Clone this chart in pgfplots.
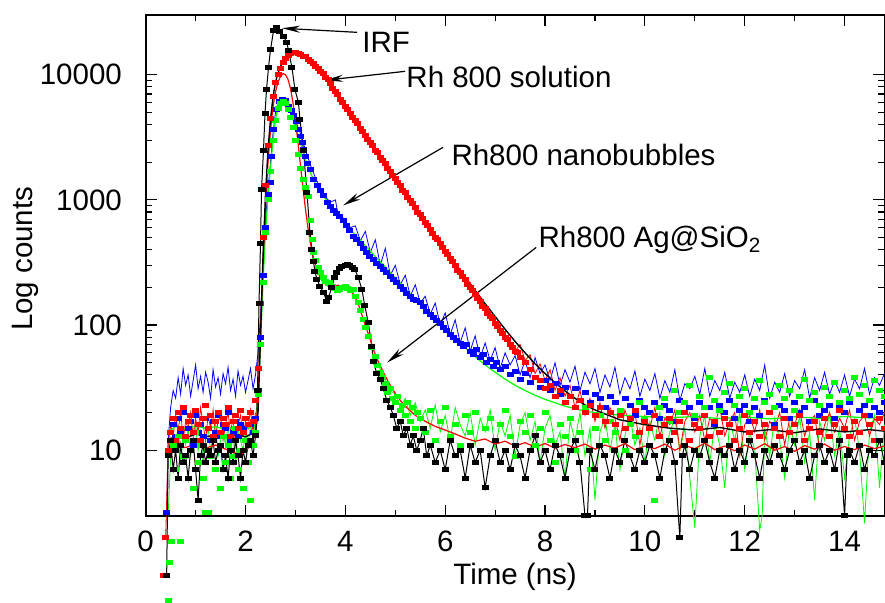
\documentclass[border=0pt]{standalone}
\usepackage{pgfplots}
\pgfplotsset{compat=1.18}
\usepackage{fontspec}
\setmainfont{Liberation Sans}
\usetikzlibrary{arrows.meta}
\definecolor{pblue}{RGB}{0,0,255}
\definecolor{pred}{RGB}{255,0,0}
\definecolor{pgreen}{RGB}{0,255,0}
\newcommand{\fs}{\fontsize{14.75}{17.7}\selectfont}

\begin{document}
\begin{tikzpicture}
\useasboundingbox (-72.85pt,-43.65pt) rectangle (369.65pt,257.85pt);
\begin{axis}[
  scale only axis,
  width=369.4pt,height=250.35pt,
  xmin=0,xmax=14.8,
  ymode=log,ymin=3,ymax=30000,
  clip=false,
  axis line style={line width=1pt},
  every tick/.style={black,line width=0.6pt},
  major tick length=5.5pt,minor tick length=3pt,
  tick align=inside,
  xtick={0,2,4,6,8,10,12,14},
  xticklabels={0,2,4,6,8,10,12,14},
  minor x tick num=1,
  ytick={10,100,1000,10000},
  yticklabels={10,100,1000,10000},
  tick label style={font=\fs},
  xticklabel style={yshift=-4.1pt},
  yticklabel style={xshift=-8.4pt},
  xlabel={Time (ns)},
  ylabel={Log counts},
  label style={font=\fs},
  xlabel style={at={(rel axis cs:0.5,0)},anchor=base,yshift=-34.65pt},
  ylabel style={at={(rel axis cs:0,0.513)},anchor=base,yshift=56.35pt},
  mark size=1pt,
]
% thin noisy traces
\addplot[pblue,line width=0.4pt] coordinates {
(0.42,3)(0.45,12)(0.5,22)(0.55,30)(0.6,26)(0.65,38)(0.7,28)(0.75,45)(0.8,33)(0.85,40)(0.9,27)(0.95,36)
(1.0,48)(1.05,31)(1.1,39)(1.15,29)(1.2,42)(1.25,35)(1.3,26)(1.35,44)(1.4,32)(1.45,38)(1.5,28)(1.55,41)
(1.6,34)(1.65,46)(1.7,30)(1.75,37)(1.8,27)(1.85,43)(1.9,33)(1.95,39)(2.0,29)(2.05,36)(2.1,45)(2.15,31)
(2.2,40)(2.25,60)(2.3,120)(2.35,300)(2.4,700)(2.45,1200)(2.5,2000)(2.55,3400)(2.6,5000)(2.65,6000)
(2.7,6400)(2.75,6400)(2.8,6100)(2.85,5700)(2.9,5300)(2.95,4800)(3.0,4300)(3.1,3400)(3.2,2500)(3.3,1900)
(3.4,1500)(3.5,1250)(3.6,1050)(3.7,960)(3.8,1000)(3.85,780)(3.9,760)(4.0,680)(4.1,600)(4.2,620)
(4.3,470)(4.4,560)(4.5,380)(4.6,480)(4.7,300)(4.8,410)(4.9,250)(5.0,300)(5.1,210)(5.2,250)(5.3,170)
(5.4,210)(5.5,150)(5.6,170)(5.7,122)(5.8,150)(5.9,100)(6.0,125)(6.1,84)(6.2,110)(6.3,72)(6.4,95)
(6.5,62)(6.6,82)(6.7,55)(6.8,72)(6.9,52)(7.0,66)(7.1,45)(7.2,60)(7.3,48)(7.4,57)(7.5,40)(7.6,52)
(7.7,38)(7.8,55)(7.9,41)(8.0,48)(8.1,36)(8.2,50)(8.3,33)(8.4,44)(8.5,35)(8.6,47)(8.7,30)(8.8,42)
(8.9,34)(9.0,45)(9.1,29)(9.2,40)(9.3,32)(9.4,46)(9.5,28)(9.6,38)(9.7,31)(9.8,43)(9.9,27)(10.0,37)
(10.1,30)(10.2,41)(10.3,26)(10.4,36)(10.5,29)(10.6,44)(10.7,25)(10.8,34)(10.9,31)(11.0,39)(11.1,28)
(11.2,45)(11.3,27)(11.4,36)(11.5,30)(11.6,42)(11.7,26)(11.8,35)(11.9,29)(12.0,40)(12.1,27)(12.2,37)
(12.3,30)(12.4,48)(12.5,26)(12.6,35)(12.7,29)(12.8,41)(12.9,27)(13.0,36)(13.1,31)(13.2,44)(13.3,26)
(13.4,38)(13.5,30)(13.6,42)(13.7,28)(13.8,36)(13.9,29)(14.0,40)(14.1,27)(14.2,37)(14.3,31)(14.4,45)
(14.5,28)(14.6,38)(14.7,33)(14.8,41)};
\addplot[pgreen,line width=0.4pt] coordinates {
(0.45,3)(0.5,9)(0.55,14)(0.6,10)(0.65,16)(0.7,8)(0.75,13)(0.8,11)(0.85,15)(0.9,9)(0.95,12)(1.0,16)
(1.05,10)(1.1,14)(1.15,8)(1.2,12)(1.25,15)(1.3,10)(1.35,13)(1.4,17)(1.45,9)(1.5,12)(1.55,14)(1.6,11)
(1.65,16)(1.7,10)(1.75,13)(1.8,8)(1.85,15)(1.9,12)(1.95,10)(2.0,14)(2.05,11)(2.1,16)(2.15,13)(2.2,17)};
\addplot[pgreen,line width=0.4pt] coordinates {
(4.6,58)(4.7,44)(4.8,36)(4.9,30)(5.0,28)(5.1,22)(5.2,26)(5.3,19)(5.4,24)(5.5,17)(5.6,21)(5.7,15)
(5.8,23)(5.9,14)(6.0,19)(6.1,12)(6.2,22)(6.3,16)(6.4,13)(6.5,20)(6.6,11)(6.7,18)(6.8,14)(6.9,21)
(7.0,10)(7.1,17)(7.2,13)(7.3,19)(7.4,9)(7.5,16)(7.6,20)(7.7,12)(7.8,17)(7.9,8)(8.0,15)(8.1,19)
(8.2,11)(8.3,14)(8.4,6)(8.5,17)(8.6,12)(8.7,20)(8.8,9)(8.9,15)(9.0,4)(9.1,14)(9.2,18)(9.3,10)
(9.4,16)(9.5,7)(9.6,13)(9.7,19)(9.8,11)(9.9,15)(10.0,8)(10.1,17)(10.2,12)(10.3,20)(10.4,9)(10.5,14)
(10.6,18)(10.7,10)(10.8,15)(10.9,6)(11.0,2.4)(11.1,13)(11.2,19)(11.3,8)(11.4,16)(11.5,11)(11.6,5)
(11.7,17)(11.8,12)(11.9,20)(12.0,7)(12.1,14)(12.2,10)(12.3,2.3)(12.35,3)(12.4,15)(12.5,9)(12.6,18)
(12.7,12)(12.8,6)(12.9,16)(13.0,11)(13.1,19)(13.2,8)(13.3,14)(13.4,4)(13.5,17)(13.6,12)(13.7,20)
(13.8,9)(13.9,15)(14.0,6)(14.1,13)(14.2,18)(14.3,10)(14.4,2.6)(14.5,14)(14.6,19)(14.7,5)(14.8,16)};
\addplot[pred,line width=0.4pt] coordinates {
(0.4,2)(0.45,11)(0.5,16)(0.55,13)(0.6,19)(0.65,14)(0.7,21)(0.75,12)(0.8,17)(0.85,15)(0.9,20)(0.95,13)
(1.0,18)(1.05,14)(1.1,22)(1.15,16)(1.2,12)(1.25,19)(1.3,15)(1.35,21)(1.4,13)(1.45,17)(1.5,19)(1.55,12)
(1.6,16)(1.65,20)(1.7,14)(1.75,18)(1.8,11)(1.85,16)(1.9,19)(1.95,13)(2.0,17)(2.05,15)(2.1,21)(2.15,14)
(2.2,20)};
\addplot[pred,line width=0.4pt] coordinates {
(7.3,75)(7.4,62)(7.5,70)(7.6,52)(7.7,58)(7.8,41)(7.9,49)(8.0,36)(8.1,44)(8.2,30)(8.3,38)(8.4,27)
(8.5,33)(8.6,22)(8.7,30)(8.8,19)(8.9,26)(9.0,17)(9.1,24)(9.2,15)(9.3,22)(9.4,18)(9.5,12)(9.6,21)
(9.7,16)(9.8,20)(9.9,11)(10.0,19)(10.1,15)(10.2,22)(10.3,13)(10.4,18)(10.5,16)(10.6,21)(10.7,10)
(10.8,17)(10.9,20)(11.0,14)(11.1,19)(11.2,12)(11.3,18)(11.4,16)(11.5,22)(11.6,13)(11.7,17)(11.8,20)
(11.9,9)(12.0,16)(12.1,19)(12.2,14)(12.3,21)(12.4,12)(12.5,17)(12.6,15)(12.7,20)(12.8,11)(12.9,18)
(13.0,16)(13.1,21)(13.2,13)(13.3,17)(13.4,19)(13.5,10)(13.6,16)(13.7,20)(13.8,14)(13.9,18)(14.0,15)
(14.1,21)(14.2,12)(14.3,17)(14.4,19)(14.5,13)(14.6,18)(14.7,16)(14.8,20)};
% Rh800 nanobubbles (blue squares)
\addplot[only marks,mark=square*,pblue,mark options={xscale=1.5}] coordinates {
(0.42,3.2)(0.5,12)(0.55,16)(0.6,13)(0.65,18)(0.7,14)(0.75,20)(0.8,12)(0.85,15)(0.9,17)(0.95,11)
(1.0,19)(1.05,14)(1.1,16)(1.15,13)(1.2,18)(1.25,15)(1.3,12)(1.35,17)(1.4,14)(1.45,19)(1.5,13)(1.55,16)
(1.6,15)(1.65,20)(1.7,12)(1.75,14)(1.8,17)(1.85,13)(1.9,16)(1.95,15)(2.0,18)(2.05,12)(2.1,16)(2.15,14)
(2.2,18)(2.25,30)(2.3,80)(2.35,250)(2.4,600)(2.45,1100)(2.49,1380)(2.52,2240)(2.56,3640)(2.62,5300)
(2.68,6100)(2.73,6350)(2.79,6200)(2.86,5600)(2.91,5200)(2.96,4700)(3.01,4200)(3.06,3640)(3.1,3200)
(3.13,2860)(3.16,2550)(3.19,2240)(3.24,1950)(3.29,1740)(3.36,1450)(3.43,1300)(3.5,1180)(3.56,1080)
(3.63,955)(3.7,880)(3.76,820)(3.82,780)(3.89,742)(3.96,680)(4.03,620)(4.09,570)(4.16,515)(4.23,480)
(4.3,445)(4.36,410)(4.43,380)(4.49,356)(4.56,335)(4.63,310)(4.7,292)(4.76,278)(4.83,262)(4.9,245)
(4.96,232)(5.03,218)(5.1,205)(5.16,192)(5.23,180)(5.3,170)(5.36,160)(5.43,156)(5.5,151)(5.56,140)
(5.63,128)(5.7,122)(5.76,115)(5.83,108)(5.9,104)(5.96,96)(6.03,90)(6.1,84)(6.16,80)(6.23,76)(6.3,72)
(6.36,68)(6.43,70)(6.5,62)(6.56,58)(6.63,64)(6.7,55)(6.76,58)(6.83,50)(6.9,53)(6.96,47)(7.03,50)
(7.1,44)(7.2,47)(7.3,40)(7.4,43)(7.5,37)(7.6,41)(7.7,35)(7.8,38)(7.9,32)(8.0,36)(8.1,30)(8.2,34)
(8.3,28)(8.4,32)(8.5,27)(8.6,31)(8.7,25)(8.8,29)(8.9,24)(9.0,28)(9.1,26)(9.2,22)(9.3,27)(9.4,24)
(9.5,21)(9.6,26)(9.7,23)(9.8,19)(9.9,25)(10.0,22)(10.1,20)(10.2,24)(10.3,18)(10.4,23)(10.5,21)
(10.6,17)(10.7,25)(10.8,20)(10.9,22)(11.0,18)(11.1,24)(11.2,19)(11.3,22)(11.4,16)(11.5,23)(11.6,20)
(11.7,25)(11.8,18)(11.9,21)(12.0,23)(12.1,17)(12.2,22)(12.3,19)(12.4,25)(12.5,20)(12.6,16)(12.7,23)
(12.8,21)(12.9,18)(13.0,24)(13.1,20)(13.2,22)(13.3,17)(13.4,25)(13.5,19)(13.6,21)(13.7,23)(13.8,18)
(13.9,22)(14.0,20)(14.1,24)(14.2,17)(14.3,21)(14.4,23)(14.5,19)(14.6,22)(14.7,20)(14.8,24)};
% Rh800 Ag@SiO2 (green squares)
\addplot[only marks,mark=square*,pgreen,mark options={xscale=1.5}] coordinates {
(0.45,0.63)(0.47,1.26)(0.52,1.87)(0.55,11)(0.6,7)(0.65,13)(0.7,1.87)(0.75,9)(0.8,12)(0.85,6)(0.9,10)
(0.95,5)(1.0,14)(1.05,8)(1.1,11)(1.15,6)(1.2,3.2)(1.25,3.2)(1.3,9)(1.35,12)(1.4,7)(1.45,10)(1.5,5)
(1.55,13)(1.6,8)(1.65,11)(1.7,6)(1.75,9)(1.8,15)(1.85,7)(1.9,10)(1.95,5)(2.0,12)(2.05,8)(2.1,4)
(2.15,11)(2.2,14)(2.25,28)(2.3,70)(2.35,220)(2.4,550)(2.45,1000)(2.5,1700)(2.55,3000)(2.6,4300)
(2.65,5400)(2.7,5900)(2.75,6100)(2.8,5900)(2.85,5300)(2.9,4600)(2.95,3800)(3.0,3000)(3.05,2300)
(3.1,1800)(3.15,1450)(3.2,1250)(3.26,1070)(3.29,690)(3.33,480)(3.36,380)(3.4,330)(3.45,290)
(3.49,262)(3.55,240)(3.6,225)(3.65,215)(3.69,218)(3.75,205)(3.8,196)(3.85,190)(3.89,193)(3.95,200)
(4.0,205)(4.05,198)(4.1,190)(4.16,193)(4.21,170)(4.26,151)(4.31,130)(4.36,111)(4.41,95)(4.46,81)
(4.53,66)(4.6,56)(4.65,48)(4.7,42)(4.75,38)(4.8,34)(4.85,29)(4.9,31)(4.95,26)(5.0,24)(5.05,27)
(5.1,21)(5.15,23)(5.2,19)(5.25,24)(5.3,17)(5.35,22)(5.4,15)(5.45,20)(5.5,18)(5.6,14)(5.7,21)
(5.8,12)(5.9,17)(6.0,22)(6.1,13)(6.2,16)(6.3,11)(6.4,19)(6.5,14)(6.6,20)(6.7,10)(6.8,15)(6.9,18)
(7.0,12)(7.1,16)(7.2,21)(7.3,13)(7.4,9)(7.5,17)(7.6,14)(7.7,19)(7.8,11)(7.9,15)(8.0,20)(8.1,12)
(8.2,8)(8.3,16)(8.4,13)(8.5,18)(8.6,10)(8.7,14)(8.8,22)(8.9,7)(9.0,15)(9.1,19)(9.2,12)(9.3,17)
(9.4,14)(9.5,21)(9.6,10)(9.7,16)(9.8,13)(9.9,24)(10.0,18)(10.1,15)(10.2,4)(10.3,22)(10.4,26)
(10.5,17)(10.6,30)(10.7,20)(10.8,24)(10.9,33)(11.0,19)(11.1,27)(11.2,22)(11.3,38)(11.4,25)(11.5,21)
(11.6,29)(11.7,34)(11.8,23)(11.9,27)(12.0,31)(12.1,20)(12.2,26)(12.3,36)(12.4,24)(12.5,28)(12.6,22)
(12.7,33)(12.8,26)(12.9,30)(13.0,21)(13.1,27)(13.2,37)(13.3,25)(13.4,29)(13.5,23)(13.6,32)(13.7,27)
(13.8,35)(13.9,24)(14.0,30)(14.1,26)(14.2,38)(14.3,28)(14.4,33)(14.5,25)(14.6,36)(14.7,30)(14.8,27)};
% Rh 800 solution (red squares)
\addplot[only marks,mark=square*,pred,mark options={xscale=1.5}] coordinates {
(0.35,1)(0.4,2)(0.45,10)(0.5,14)(0.55,18)(0.6,12)(0.65,20)(0.7,15)(0.75,22)(0.8,13)(0.85,17)(0.9,19)
(0.95,14)(1.0,21)(1.05,16)(1.1,12)(1.15,18)(1.2,23)(1.25,15)(1.3,19)(1.35,13)(1.4,17)(1.45,20)
(1.5,14)(1.55,18)(1.6,16)(1.65,22)(1.7,13)(1.75,17)(1.8,19)(1.85,15)(1.9,21)(1.95,14)(2.0,18)
(2.05,16)(2.1,20)(2.15,17)(2.2,25)(2.25,45)(2.3,150)(2.35,500)(2.4,1300)(2.45,2700)(2.5,4500)
(2.55,6700)(2.6,8700)(2.65,10000)(2.7,11200)(2.75,12600)(2.8,13500)(2.85,14200)(2.9,14700)
(2.95,15000)(3.0,15100)(3.05,14800)(3.1,14600)(3.15,14100)(3.2,13900)(3.25,13300)(3.3,12800)
(3.35,12400)(3.4,11700)(3.45,11300)(3.5,10600)(3.55,10200)(3.6,9500)(3.65,9100)(3.7,8500)(3.75,7800)
(3.8,7400)(3.85,6900)(3.9,6400)(3.95,6050)(4.0,5600)(4.05,5300)(4.1,4950)(4.15,4600)(4.2,4300)
(4.25,4050)(4.3,3750)(4.35,3550)(4.4,3300)(4.45,3050)(4.5,2900)(4.55,2700)(4.6,2500)(4.65,2380)
(4.7,2200)(4.75,2080)(4.8,1950)(4.85,1790)(4.9,1700)(4.95,1570)(5.0,1480)(5.05,1390)(5.1,1300)
(5.15,1200)(5.2,1140)(5.25,1050)(5.3,990)(5.35,930)(5.4,870)(5.45,800)(5.5,760)(5.55,705)(5.6,660)
(5.65,625)(5.7,585)(5.75,540)(5.8,505)(5.85,480)(5.9,445)(5.95,415)(6.0,390)(6.05,370)(6.1,340)
(6.15,322)(6.2,300)(6.25,275)(6.3,262)(6.35,245)(6.4,230)(6.45,212)(6.5,200)(6.55,190)(6.6,176)
(6.65,163)(6.7,155)(6.75,142)(6.8,136)(6.85,125)(6.9,118)(6.95,112)(7.0,104)(7.05,98)(7.1,90)
(7.15,86)(7.2,80)(7.25,77)(7.3,70)(7.35,66)(7.4,62)(7.45,60)(7.5,55)(7.6,50)(7.7,44)(7.8,38)(7.9,36)
(8.0,31)(8.1,33)(8.2,27)(8.3,30)(8.4,24)(8.5,27)(8.6,22)(8.7,25)(8.8,20)(8.9,23)(9.0,19)(9.1,22)
(9.2,17)(9.3,20)(9.4,16)(9.5,19)(9.6,15)(9.7,18)(9.8,21)(9.9,14)(10.0,17)(10.1,15)(10.2,19)(10.3,13)
(10.4,16)(10.5,18)(10.6,14)(10.7,17)(10.8,20)(10.9,12)(11.0,16)(11.1,15)(11.2,19)(11.3,13)(11.4,17)
(11.5,14)(11.6,18)(11.7,16)(11.8,12)(11.9,15)(12.0,19)(12.1,14)(12.2,17)(12.3,13)(12.4,16)(12.5,20)
(12.6,15)(12.7,13)(12.8,18)(12.9,14)(13.0,16)(13.1,19)(13.2,12)(13.3,15)(13.4,17)(13.5,14)(13.6,18)
(13.7,13)(13.8,16)(13.9,21)(14.0,15)(14.1,13)(14.2,17)(14.3,14)(14.4,19)(14.5,16)(14.6,12)(14.7,18)
(14.8,15)};
% IRF (black squares joined)
\addplot[black,line width=0.5pt,mark=square*,mark options={xscale=1.5}] coordinates {
(0.42,1)(0.45,9)(0.5,12)(0.55,7)(0.6,10)(0.65,6)(0.7,11)(0.75,8)(0.8,9)(0.85,6)(0.9,10)(0.95,12)
(1.0,7)(1.05,4)(1.1,9)(1.15,11)(1.2,8)(1.25,10)(1.3,9)(1.35,12)(1.4,8)(1.45,10)(1.5,11)(1.55,7)
(1.6,9)(1.65,6)(1.7,10)(1.75,8)(1.8,12)(1.85,9)(1.9,6)(1.95,10)(2.0,8)(2.05,11)(2.1,12)(2.15,9)
(2.2,13)(2.24,30)(2.27,150)(2.3,450)(2.32,1200)(2.36,2500)(2.39,4900)(2.42,7600)(2.46,11400)
(2.5,15800)(2.56,22400)(2.62,23800)(2.69,22300)(2.76,20300)(2.83,18000)(2.86,15600)(2.93,11400)
(2.99,7600)(3.06,6000)(3.09,4400)(3.16,2500)(3.23,1150)(3.29,550)(3.33,400)(3.36,323)(3.39,270)
(3.43,232)(3.49,205)(3.56,182)(3.63,155)(3.66,166)(3.73,200)(3.78,240)(3.83,262)(3.88,285)(3.93,292)
(4.0,300)(4.05,305)(4.09,300)(4.14,290)(4.19,277)(4.26,239)(4.33,193)(4.39,142)(4.46,104)(4.53,68)
(4.56,51)(4.63,41)(4.7,37)(4.76,31)(4.83,25)(4.9,22)(4.96,19)(5.03,15)(5.1,17)(5.16,13)(5.23,15)
(5.3,11)(5.36,13)(5.43,10)(5.5,12)(5.56,15)(5.63,9)(5.7,11)(5.8,8)(5.9,10)(6.0,7)(6.1,12)(6.2,9)
(6.3,10)(6.4,6)(6.5,11)(6.6,8)(6.7,10)(6.8,5)(6.9,9)(7.0,12)(7.1,8)(7.2,10)(7.3,7)(7.4,11)(7.5,9)
(7.6,6)(7.7,10)(7.8,13)(7.9,8)(8.0,10)(8.1,7)(8.2,11)(8.3,9)(8.4,6)(8.5,10)(8.6,12)(8.7,8)(8.8,3)
(8.85,3)(8.9,10)(9.0,7)(9.1,11)(9.2,9)(9.3,6)(9.4,10)(9.5,8)(9.6,12)(9.7,9)(9.8,7)(9.9,10)(10.0,8)
(10.1,11)(10.2,9)(10.3,6)(10.4,10)(10.5,12)(10.6,8)(10.7,2)(10.75,9)(10.8,11)(10.9,7)(11.0,10)
(11.1,9)(11.2,12)(11.3,8)(11.4,6)(11.5,10)(11.6,9)(11.7,11)(11.8,7)(11.9,10)(12.0,8)(12.1,12)
(12.2,9)(12.3,6)(12.4,10)(12.5,8)(12.6,11)(12.7,9)(12.8,7)(12.9,10)(13.0,12)(13.1,8)(13.2,10)
(13.3,6)(13.4,9)(13.5,11)(13.6,8)(13.7,10)(13.8,7)(13.9,12)(14.0,3)(14.05,9)(14.1,10)(14.2,8)
(14.3,11)(14.4,7)(14.5,10)(14.6,9)(14.7,12)(14.8,8)};
% fitted curves
\addplot[pgreen,line width=0.6pt] coordinates {
(0.45,14)(0.6,15.5)(0.8,14.8)(1.0,15.6)(1.2,15)(1.4,15.4)(1.6,14.7)(1.8,15.3)(2.0,14.6)(2.2,16)
(2.25,25)(2.3,70)(2.35,220)(2.4,550)(2.45,1050)(2.5,1800)(2.55,3000)(2.6,4400)(2.65,5500)(2.7,6100)
(2.75,6300)(2.8,6100)(2.85,5600)(2.9,5000)(2.95,4400)(3.0,3800)(3.05,3300)(3.1,2850)(3.15,2450)
(3.2,2100)(3.3,1650)(3.4,1350)(3.5,1170)(3.6,1020)(3.7,900)(3.8,800)(3.9,720)(4.0,645)(4.2,525)
(4.4,430)(4.6,352)(4.8,290)(5.0,238)(5.2,196)(5.4,162)(5.6,134)(5.8,111)(6.0,93)(6.2,78)(6.4,66)
(6.6,56)(6.8,48)(7.0,42)(7.2,37)(7.4,33)(7.6,30)(7.8,27.5)(8.0,25.5)(8.4,22.5)(8.8,20.5)(9.2,19.5)
(9.6,19)(10.0,18.6)(10.5,18.2)(11.0,18.6)(11.5,17.9)(12.0,18.4)(12.5,17.8)(13.0,18.5)(13.5,18)
(14.0,18.6)(14.5,18.1)(14.8,18.4)};
\addplot[pred,line width=0.6pt] coordinates {
(0.45,10)(0.6,11)(0.8,10.5)(1.0,11.2)(1.2,10.4)(1.4,11)(1.6,10.2)(1.8,9.5)(1.9,9.2)(2.0,9.8)(2.1,11)
(2.2,14)(2.25,25)(2.3,90)(2.35,320)(2.4,900)(2.45,2000)(2.5,3600)(2.55,5500)(2.6,7300)(2.65,8700)
(2.7,9700)(2.75,10200)(2.8,10000)(2.85,9200)(2.9,7800)(2.95,6000)(3.0,4300)(3.05,2900)(3.1,1900)
(3.15,1250)(3.2,850)(3.25,600)(3.3,450)(3.35,360)(3.4,300)(3.45,262)(3.5,238)(3.55,222)(3.6,212)
(3.65,205)(3.7,202)(3.75,203)(3.8,206)(3.85,208)(3.9,207)(3.95,204)(4.0,200)(4.05,195)(4.1,188)
(4.15,178)(4.2,166)(4.25,150)(4.3,132)(4.35,114)(4.4,99)(4.45,87)(4.5,76)(4.55,66)(4.6,58)(4.65,52)
(4.7,47)(4.8,39)(4.9,33)(5.0,28.5)(5.1,25)(5.2,22.5)(5.4,19)(5.6,17)(5.8,15.5)(6.0,14.5)(6.2,13.5)
(6.4,12.5)(6.6,11.8)(6.8,12.3)(7.0,11.2)(7.2,11.8)(7.4,10.8)(7.6,11.5)(7.8,10.6)(8.0,11.3)(8.2,10.4)
(8.4,11.1)(8.6,10.5)(8.8,11.2)(9.0,10.2)(9.2,11)(9.4,10.4)(9.6,11.3)(9.8,10.1)(10.0,10.8)(10.2,10.3)
(10.4,11.2)(10.6,10)(10.8,10.9)(11.0,10.3)(11.2,11.4)(11.4,10.1)(11.6,10.8)(11.8,9.9)(12.0,11)
(12.2,10.2)(12.4,11.3)(12.6,10)(12.8,10.7)(13.0,9.8)(13.2,10.9)(13.4,10.2)(13.6,11.2)(13.8,10)
(14.0,10.7)(14.2,10.1)(14.4,11)(14.6,10.3)(14.8,10.8)};
\addplot[black,line width=0.7pt] coordinates {
(0.45,12)(0.6,13)(0.8,12.5)(1.0,13.5)(1.2,12.8)(1.4,13.2)(1.6,12.6)(1.8,13.4)(2.0,12.8)(2.2,14)
(2.25,20)(2.3,80)(2.35,350)(2.4,1100)(2.45,2500)(2.5,4400)(2.55,6600)(2.6,8700)(2.65,10300)
(2.7,11600)(2.75,12700)(2.8,13600)(2.85,14300)(2.9,14800)(2.95,15100)(3.0,15200)(3.1,14700)
(3.2,13900)(3.3,12900)(3.4,11800)(3.5,10700)(3.6,9600)(3.7,8400)(3.8,7360)(3.9,6440)(4.0,5640)
(4.2,4320)(4.4,3310)(4.6,2540)(4.8,1950)(5.0,1490)(5.2,1150)(5.4,880)(5.6,680)(5.8,525)(6.0,405)
(6.2,312)(6.4,242)(6.6,189)(6.8,148)(7.0,117)(7.2,92.5)(7.4,74)(7.6,60)(7.8,49)(8.0,41)(8.2,34.6)
(8.4,29.8)(8.6,26)(8.8,23)(9.0,21)(9.2,19.5)(9.5,17.5)(10.0,16)(10.5,15)(11.0,14.5)(11.5,15.2)
(12.0,14)(12.5,14.6)(13.0,13.8)(13.5,14.8)(14.0,14)(14.5,14.6)(14.8,14.2)};
% annotations
\begin{scope}[font=\fs]
\node[anchor=base west,inner sep=0pt] at (axis cs:4.335,15030) {IRF};
\node[anchor=base west,inner sep=0pt] at (axis cs:5.216,7880) {Rh 800 solution};
\node[anchor=base west,inner sep=0pt] at (axis cs:6.118,1897) {Rh800 nanobubbles};
\node[anchor=base west,inner sep=0pt] at (axis cs:7.862,415) {Rh800 Ag@SiO\textsubscript{2}};
\end{scope}
\begin{scope}[line width=0.6pt,-{Stealth[length=9pt,width=3.5pt]}]
\draw (axis cs:4.235,21800) -- (axis cs:2.731,23500);
\draw (axis cs:5.196,10640) -- (axis cs:3.592,9020);
\draw (axis cs:5.958,2630) -- (axis cs:3.954,903);
\draw (axis cs:7.822,417) -- (axis cs:4.836,50.2);
\end{scope}
\end{axis}
\end{tikzpicture}
\end{document}
